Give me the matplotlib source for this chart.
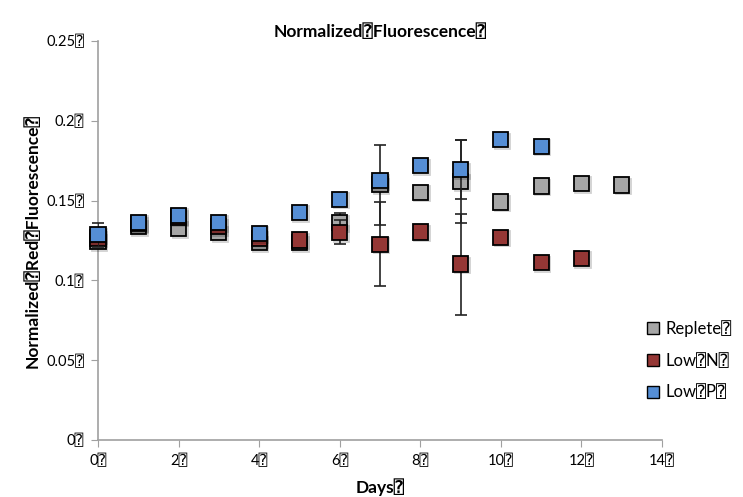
import matplotlib
matplotlib.use("Agg")
import matplotlib.pyplot as plt
import matplotlib.patheffects as pe
from matplotlib.lines import Line2D

plt.rcParams['font.family'] = ['Lato', 'DejaVu Sans Mono', 'DejaVu Sans']

B = "\u2370"  # box glyph as in reference

days_replete = [0, 1, 2, 3, 4, 5, 6, 7, 8, 9, 10, 11, 12, 13]
replete = [0.1245, 0.1336, 0.1326, 0.1300, 0.1236, 0.1236, 0.1364, 0.1600, 0.1553, 0.1620, 0.1491, 0.1592, 0.1609, 0.1597]
replete_err = [0, 0, 0, 0, 0, 0, 0.006, 0.025, 0, 0.026, 0, 0, 0, 0]

days_lown = [0, 1, 2, 3, 4, 5, 6, 7, 8, 9, 10, 11, 12]
lown = [0.1265, 0.1355, 0.1397, 0.1339, 0.1264, 0.1253, 0.1302, 0.1227, 0.1304, 0.1102, 0.1271, 0.1111, 0.1138]
lown_err = [0, 0, 0, 0, 0, 0, 0.0075, 0.0262, 0, 0.0316, 0, 0, 0]

days_lowp = [0, 1, 2, 3, 4, 5, 6, 7, 8, 9, 10, 11]
lowp = [0.1286, 0.1364, 0.1408, 0.1364, 0.1295, 0.1426, 0.1509, 0.1624, 0.1718, 0.1695, 0.1882, 0.1841]
lowp_err = [0.0075, 0, 0, 0, 0, 0, 0, 0, 0, 0.0185, 0, 0]

labels = ["Replete" + B, "Low" + B + "N" + B, "Low" + B + "P" + B]
colors = ["#A6A6A6", "#953735", "#558ED5"]
xticks = [0, 2, 4, 6, 8, 10, 12, 14]
yticks = [0, 0.05, 0.1, 0.15, 0.2, 0.25]
ytick_labels = ["0", "0.05", "0.1", "0.15", "0.2", "0.25"]

fig = plt.figure(figsize=(7.43, 4.97), dpi=100)
ax = fig.add_axes([98/743, 57/497, 564/743, 399/497])

series = [(days_replete, replete, replete_err), (days_lown, lown, lown_err), (days_lowp, lowp, lowp_err)]
for i, (xs, ys, es) in enumerate(series):
    ax.errorbar(xs, ys, yerr=es, fmt='none', ecolor='#222222', elinewidth=1.2,
                capsize=4, capthick=1.2, zorder=2 + i * 2)
    ln, = ax.plot(xs, ys, linestyle='none', marker='s', markersize=11,
                  markerfacecolor=colors[i], markeredgecolor='black',
                  markeredgewidth=1.3, zorder=3 + i * 2)
    ln.set_path_effects([pe.SimpleLineShadow(offset=(1.2, -1.2), alpha=0.18), pe.Normal()])

ax.set_xlim(0, 14)
ax.set_ylim(0, 0.25)
ax.set_xticks(xticks)
ax.set_xticklabels([f"{t}{B}" for t in xticks])
ax.set_yticks(yticks)
ax.set_yticklabels([t + B for t in ytick_labels])
for s in ['top', 'right']:
    ax.spines[s].set_visible(False)
for s in ['left', 'bottom']:
    ax.spines[s].set_color('#A0A0A0')
    ax.spines[s].set_linewidth(1.2)
ax.tick_params(axis='both', direction='out', length=5, color='#A0A0A0', labelsize=10.5, pad=5)
for art in ax.lines:
    art.set_clip_on(False)

ax.set_title("Normalized" + B + "Fluorescence" + B, fontsize=12.5, fontweight='bold', pad=3)
ax.set_xlabel("Days" + B, fontsize=12.5, fontweight='bold', labelpad=7)
ax.set_ylabel("Normalized" + B + "Red" + B + "Fluorescence" + B, fontsize=12.5, fontweight='bold')
ax.yaxis.set_label_coords(-0.102, 0.5)

handles = [Line2D([], [], linestyle='none', marker='s', markersize=8, markerfacecolor=c,
                  markeredgecolor='black', markeredgewidth=1.0) for c in colors]
fig.legend(handles, labels, loc='upper left', bbox_to_anchor=(630/743, 1 - 305/497),
           frameon=False, fontsize=12, handletextpad=0.25, labelspacing=0.95, handlelength=1.0)

fig.savefig("out.png", dpi=100)
